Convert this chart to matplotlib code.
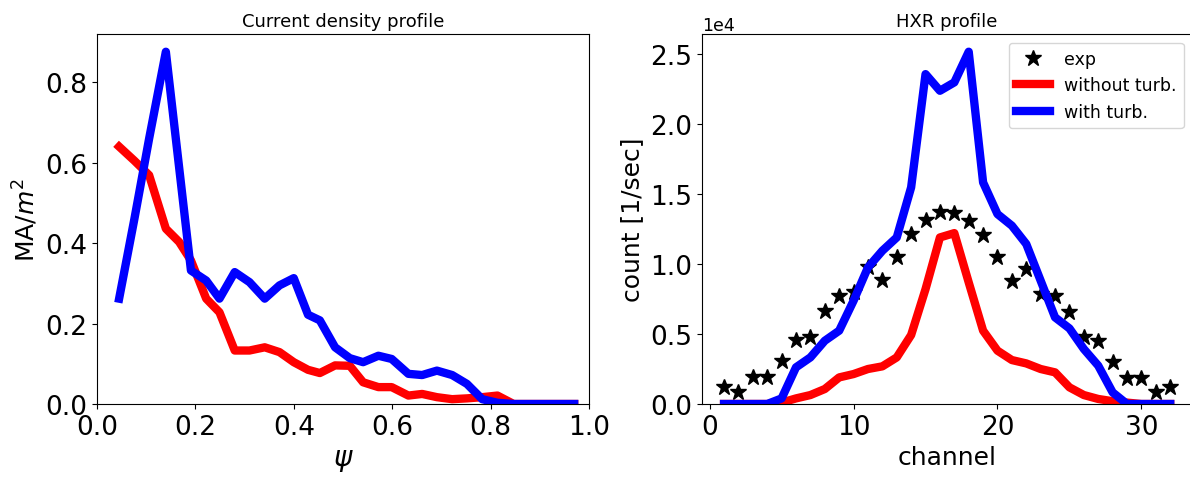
import numpy as np
import matplotlib
matplotlib.use("Agg")
import matplotlib.pyplot as plt

# current density profile
psi = [0.045, 0.076, 0.106, 0.140, 0.167, 0.191, 0.222, 0.249, 0.280, 0.310, 0.341,
       0.371, 0.400, 0.429, 0.453, 0.484, 0.514, 0.541, 0.572, 0.599, 0.633, 0.661,
       0.691, 0.722, 0.752, 0.783, 0.814, 0.847, 0.878, 0.909, 0.940, 0.970]
j_noturb = [0.640, 0.605, 0.569, 0.436, 0.403, 0.357, 0.262, 0.228, 0.133, 0.133, 0.141,
            0.129, 0.104, 0.085, 0.077, 0.096, 0.095, 0.054, 0.042, 0.042, 0.021, 0.025,
            0.017, 0.012, 0.014, 0.017, 0.021, 0.0, 0.0, 0.0, 0.0, 0.0]
j_turb = [0.262, 0.460, 0.660, 0.876, 0.588, 0.332, 0.307, 0.262, 0.328, 0.303, 0.262,
          0.295, 0.313, 0.222, 0.208, 0.141, 0.114, 0.104, 0.120, 0.112, 0.075, 0.072,
          0.083, 0.072, 0.050, 0.012, 0.003, 0.0, 0.0, 0.0, 0.0, 0.0]

# HXR profile
channel = list(range(1, 33))
hxr_exp = [1240, 880, 1900, 1900, 3050, 4570, 4760, 6670, 7740, 8000, 9760, 8880,
           10480, 12140, 13170, 13690, 13620, 13100, 12070, 10480, 8810, 9640, 7860,
           7740, 6600, 4760, 4520, 3020, 1830, 1830, 880, 1190]
hxr_noturb = [0, 0, 0, 0, 100, 400, 640, 1070, 1900, 2140, 2500, 2690, 3330, 4930,
              8210, 11900, 12210, 8690, 5240, 3810, 3140, 2900, 2500, 2260, 1190, 640,
              360, 200, 100, 0, 0, 0]
hxr_turb = [0, 0, 0, 0, 400, 2620, 3330, 4520, 5240, 7380, 9760, 10950, 11900, 15480,
            23570, 22380, 22980, 25170, 15830, 13570, 12740, 11430, 8810, 6190, 5400,
            3930, 2740, 830, 0, 0, 0, 0]

fig = plt.figure(figsize=(11.9, 4.81), dpi=100)
ax1 = fig.add_axes([0.0815, 0.158, 0.4134, 0.769])
ax2 = fig.add_axes([0.5897, 0.158, 0.4124, 0.769])

ax1.plot(psi, j_noturb, color="red", lw=6)
ax1.plot(psi, j_turb, color="blue", lw=6)
ax1.set_xlim(0, 1.0)
ax1.set_ylim(bottom=0)
ax1.set_title("Current density profile", fontsize=13)
ax1.set_xlabel(r"$\psi$", fontsize=20)
ax1.set_ylabel(r"MA/$m^2$", fontsize=18)
ax1.tick_params(labelsize=19)

ax2.plot(channel, hxr_exp, "*", color="black", ms=12, label="exp")
ax2.plot(channel, hxr_noturb, color="red", lw=6, label="without turb.")
ax2.plot(channel, hxr_turb, color="blue", lw=6, label="with turb.")
ax2.set_ylim(bottom=0)
ax2.set_title("HXR profile", fontsize=13)
ax2.set_xlabel("channel", fontsize=18)
ax2.set_ylabel("count [1/sec]", fontsize=18)
ax2.tick_params(labelsize=19)
ax2.ticklabel_format(axis="y", style="sci", scilimits=(0, 0))
ax2.yaxis.get_offset_text().set_fontsize(12.5)
ax2.legend(loc="upper right", fontsize=12.5)

fig.savefig("out.png", dpi=100)
